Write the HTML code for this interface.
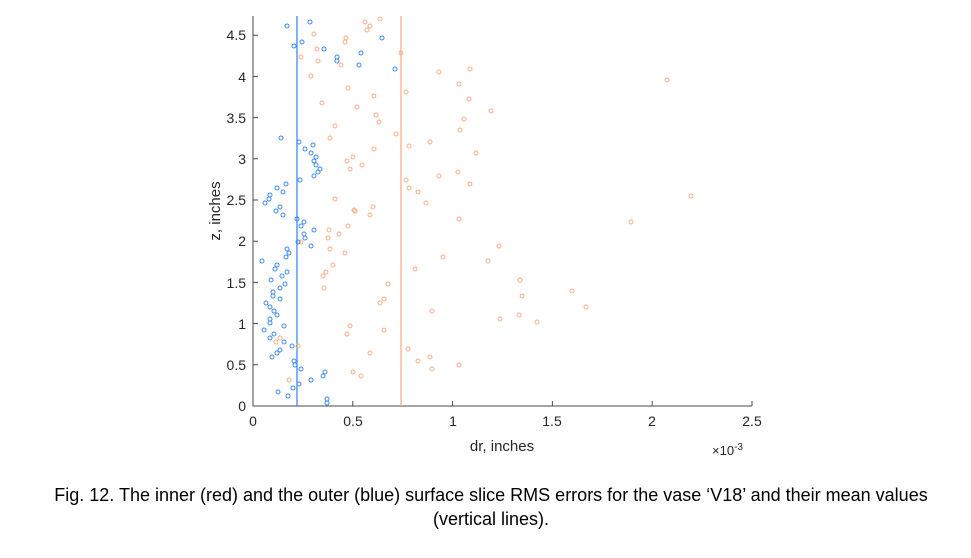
<!DOCTYPE html>
<html><head><meta charset="utf-8"><style>
body{margin:0;background:#fff;}
svg{display:block;font-family:"Liberation Sans",Arial,sans-serif;}
</style></head><body>
<svg width="971" height="558" viewBox="0 0 971 558" xmlns="http://www.w3.org/2000/svg">
<rect width="971" height="558" fill="#fff"/>
<g stroke="#4a4a4a" stroke-width="1" fill="none">
<line x1="253" y1="16" x2="253" y2="406.5"/>
<line x1="252.5" y1="406" x2="752" y2="406"/>
<path d="M253 406h5M253 364.8h5M253 323.6h5M253 282.4h5M253 241.2h5M253 200h5M253 158.8h5M253 117.6h5M253 76.4h5M253 35.2h5"/>
<path d="M253 406v-5M352.8 406v-5M452.6 406v-5M552.4 406v-5M652.2 406v-5M752 406v-5"/>
</g>
<g font-size="14" fill="#262626" text-anchor="end">
<text x="246" y="411">0</text><text x="246" y="370">0.5</text><text x="246" y="329">1</text>
<text x="246" y="288">1.5</text><text x="246" y="246">2</text><text x="246" y="205">2.5</text>
<text x="246" y="164">3</text><text x="246" y="123">3.5</text><text x="246" y="82">4</text><text x="246" y="40">4.5</text>
</g>
<g font-size="14" fill="#262626" text-anchor="middle">
<text x="253" y="426">0</text><text x="353" y="426">0.5</text><text x="453" y="426">1</text>
<text x="552" y="426">1.5</text><text x="652" y="426">2</text><text x="752" y="426">2.5</text>
<text x="502" y="451" font-size="15">dr, inches</text>
</g>
<text x="712" y="455" font-size="13" fill="#262626">×10<tspan dy="-5" font-size="10">-3</tspan></text>
<text transform="translate(220 211) rotate(-90)" font-size="15" fill="#262626" text-anchor="middle">z, inches</text>
<line x1="297" y1="16" x2="297" y2="406" stroke="#3d8af0" stroke-width="1.3"/>
<line x1="401" y1="16" x2="401" y2="406" stroke="#f9ad88" stroke-width="1.3"/>
<g fill="none" stroke="#f9ad88" stroke-width="1">
<circle cx="314" cy="34" r="2"/><circle cx="317" cy="49" r="2"/><circle cx="301" cy="57" r="2"/><circle cx="318" cy="61" r="2"/><circle cx="311" cy="76" r="2"/><circle cx="365" cy="22" r="2"/><circle cx="370" cy="26" r="2"/><circle cx="367" cy="30" r="2"/><circle cx="380" cy="19" r="2"/><circle cx="346" cy="38" r="2"/><circle cx="345" cy="42" r="2"/><circle cx="341" cy="65" r="2"/><circle cx="401" cy="53" r="2"/><circle cx="348" cy="88" r="2"/><circle cx="374" cy="96" r="2"/><circle cx="322" cy="103" r="2"/><circle cx="357" cy="107" r="2"/><circle cx="376" cy="115" r="2"/><circle cx="379" cy="122" r="2"/><circle cx="335" cy="126" r="2"/><circle cx="330" cy="138" r="2"/><circle cx="396" cy="134" r="2"/><circle cx="374" cy="149" r="2"/><circle cx="353" cy="157" r="2"/><circle cx="347" cy="161" r="2"/><circle cx="362" cy="165" r="2"/><circle cx="350" cy="169" r="2"/><circle cx="439" cy="72" r="2"/><circle cx="470" cy="69" r="2"/><circle cx="459" cy="84" r="2"/><circle cx="406" cy="92" r="2"/><circle cx="469" cy="99" r="2"/><circle cx="491" cy="111" r="2"/><circle cx="464" cy="119" r="2"/><circle cx="460" cy="130" r="2"/><circle cx="430" cy="142" r="2"/><circle cx="409" cy="146" r="2"/><circle cx="476" cy="153" r="2"/><circle cx="458" cy="172" r="2"/><circle cx="439" cy="176" r="2"/><circle cx="470" cy="184" r="2"/><circle cx="406" cy="180" r="2"/><circle cx="409" cy="188" r="2"/><circle cx="418" cy="192" r="2"/><circle cx="426" cy="203" r="2"/><circle cx="335" cy="199" r="2"/><circle cx="373" cy="207" r="2"/><circle cx="354" cy="210" r="2"/><circle cx="355" cy="211" r="2"/><circle cx="370" cy="215" r="2"/><circle cx="459" cy="219" r="2"/><circle cx="348" cy="226" r="2"/><circle cx="339" cy="234" r="2"/><circle cx="329" cy="230" r="2"/><circle cx="328" cy="238" r="2"/><circle cx="301" cy="242" r="2"/><circle cx="330" cy="249" r="2"/><circle cx="345" cy="253" r="2"/><circle cx="333" cy="265" r="2"/><circle cx="326" cy="272" r="2"/><circle cx="323" cy="276" r="2"/><circle cx="324" cy="288" r="2"/><circle cx="388" cy="284" r="2"/><circle cx="384" cy="299" r="2"/><circle cx="380" cy="303" r="2"/><circle cx="350" cy="326" r="2"/><circle cx="347" cy="334" r="2"/><circle cx="384" cy="330" r="2"/><circle cx="280" cy="338" r="2"/><circle cx="276" cy="342" r="2"/><circle cx="298" cy="346" r="2"/><circle cx="370" cy="353" r="2"/><circle cx="289" cy="380" r="2"/><circle cx="353" cy="372" r="2"/><circle cx="361" cy="376" r="2"/><circle cx="499" cy="246" r="2"/><circle cx="443" cy="257" r="2"/><circle cx="415" cy="269" r="2"/><circle cx="488" cy="261" r="2"/><circle cx="432" cy="311" r="2"/><circle cx="500" cy="319" r="2"/><circle cx="519" cy="315" r="2"/><circle cx="520" cy="280" r="2"/><circle cx="408" cy="349" r="2"/><circle cx="418" cy="361" r="2"/><circle cx="430" cy="357" r="2"/><circle cx="432" cy="369" r="2"/><circle cx="459" cy="365" r="2"/><circle cx="522" cy="296" r="2"/><circle cx="572" cy="291" r="2"/><circle cx="586" cy="307" r="2"/><circle cx="537" cy="322" r="2"/><circle cx="631" cy="222" r="2"/><circle cx="691" cy="196" r="2"/><circle cx="667" cy="80" r="2"/>
</g>
<g fill="none" stroke="#3d8af0" stroke-width="1">
<circle cx="287" cy="26" r="2"/><circle cx="310" cy="22" r="2"/><circle cx="294" cy="46" r="2"/><circle cx="302" cy="42" r="2"/><circle cx="324" cy="49" r="2"/><circle cx="337" cy="57" r="2"/><circle cx="337" cy="61" r="2"/><circle cx="361" cy="53" r="2"/><circle cx="359" cy="65" r="2"/><circle cx="382" cy="38" r="2"/><circle cx="395" cy="69" r="2"/><circle cx="281" cy="138" r="2"/><circle cx="299" cy="142" r="2"/><circle cx="305" cy="149" r="2"/><circle cx="313" cy="145" r="2"/><circle cx="311" cy="153" r="2"/><circle cx="316" cy="157" r="2"/><circle cx="314" cy="161" r="2"/><circle cx="316" cy="165" r="2"/><circle cx="320" cy="169" r="2"/><circle cx="318" cy="172" r="2"/><circle cx="314" cy="176" r="2"/><circle cx="300" cy="180" r="2"/><circle cx="286" cy="184" r="2"/><circle cx="277" cy="188" r="2"/><circle cx="283" cy="192" r="2"/><circle cx="270" cy="195" r="2"/><circle cx="269" cy="199" r="2"/><circle cx="265" cy="203" r="2"/><circle cx="280" cy="207" r="2"/><circle cx="276" cy="211" r="2"/><circle cx="283" cy="215" r="2"/><circle cx="297" cy="219" r="2"/><circle cx="301" cy="226" r="2"/><circle cx="304" cy="222" r="2"/><circle cx="304" cy="234" r="2"/><circle cx="305" cy="238" r="2"/><circle cx="314" cy="230" r="2"/><circle cx="298" cy="242" r="2"/><circle cx="311" cy="246" r="2"/><circle cx="287" cy="249" r="2"/><circle cx="289" cy="253" r="2"/><circle cx="286" cy="257" r="2"/><circle cx="262" cy="261" r="2"/><circle cx="277" cy="265" r="2"/><circle cx="275" cy="269" r="2"/><circle cx="287" cy="272" r="2"/><circle cx="282" cy="276" r="2"/><circle cx="271" cy="280" r="2"/><circle cx="285" cy="284" r="2"/><circle cx="280" cy="288" r="2"/><circle cx="273" cy="292" r="2"/><circle cx="273" cy="296" r="2"/><circle cx="280" cy="299" r="2"/><circle cx="266" cy="303" r="2"/><circle cx="270" cy="307" r="2"/><circle cx="274" cy="311" r="2"/><circle cx="277" cy="315" r="2"/><circle cx="270" cy="319" r="2"/><circle cx="270" cy="323" r="2"/><circle cx="284" cy="326" r="2"/><circle cx="264" cy="330" r="2"/><circle cx="274" cy="334" r="2"/><circle cx="270" cy="338" r="2"/><circle cx="284" cy="342" r="2"/><circle cx="292" cy="346" r="2"/><circle cx="280" cy="350" r="2"/><circle cx="277" cy="353" r="2"/><circle cx="272" cy="357" r="2"/><circle cx="294" cy="361" r="2"/><circle cx="295" cy="365" r="2"/><circle cx="301" cy="369" r="2"/><circle cx="325" cy="372" r="2"/><circle cx="323" cy="376" r="2"/><circle cx="311" cy="380" r="2"/><circle cx="299" cy="384" r="2"/><circle cx="293" cy="388" r="2"/><circle cx="278" cy="392" r="2"/><circle cx="288" cy="396" r="2"/><circle cx="327" cy="399" r="2"/><circle cx="327" cy="403" r="2"/>
</g>
<g font-size="18" fill="#000" text-anchor="middle">
<text x="491" y="501">Fig. 12. The inner (red) and the outer (blue) surface slice RMS errors for the vase ‘V18’ and their mean values</text>
<text x="491" y="525">(vertical lines).</text>
</g>
</svg>
</body></html>
